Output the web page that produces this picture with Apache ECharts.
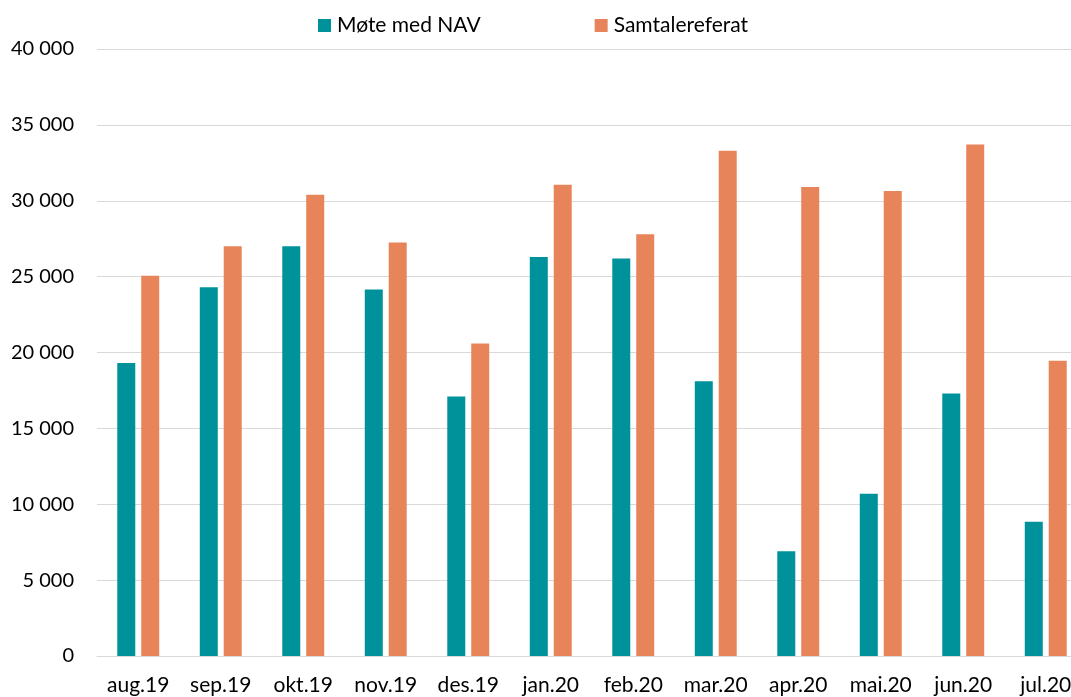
<!DOCTYPE html>
<html>
<head>
<meta charset="UTF-8">
<title>Møte med NAV / Samtalereferat</title>
<script src="https://cdn.jsdelivr.net/npm/echarts@6/dist/echarts.min.js"></script>
</head>
<body style="margin:0;width:1071px;height:697px;overflow:hidden;background:#fff;">
<!-- the chart runs past the right edge, like the original, so the container is wider than the window -->
<div id="container" style="width:1087px;height:697px;"></div>
<script>
var months = ['aug.19', 'sep.19', 'okt.19', 'nov.19', 'des.19', 'jan.20', 'feb.20', 'mar.20', 'apr.20', 'mai.20', 'jun.20', 'jul.20'];
var moteMedNav = [19300, 24300, 27000, 24150, 17100, 26300, 26200, 18100, 6900, 10700, 17300, 8850];
var samtalereferat = [25050, 27000, 30400, 27250, 20600, 31050, 27800, 33300, 30900, 30650, 33700, 19450];

var font = 'Lato, "Open Sans", sans-serif';
var chart = echarts.init(document.getElementById('container'));

function fmt(v) {
  return String(v).replace(/\B(?=(\d{3})+(?!\d))/g, ' ');
}

chart.setOption({
  animation: false,
  textStyle: { fontFamily: font },
  legend: {
    top: 10,
    left: 313,
    itemWidth: 13,
    itemHeight: 13,
    itemGap: 114,
    icon: 'rect',
    textStyle: { fontSize: 21, color: '#000', fontFamily: font, padding: [0, 0, 0, 1] },
    data: ['Møte med NAV', 'Samtalereferat']
  },
  grid: { left: 97, right: 0, top: 49, bottom: 41, containLabel: false },
  xAxis: {
    type: 'category',
    data: months,
    axisLine: { lineStyle: { color: '#d9d9d9', width: 1 } },
    axisTick: { show: false },
    axisLabel: { color: '#000', fontSize: 21, margin: 19, fontFamily: font, interval: 0, hideOverlap: false }
  },
  yAxis: {
    type: 'value',
    min: 0,
    max: 40000,
    interval: 5000,
    axisLine: { show: false },
    axisTick: { show: false },
    splitLine: { lineStyle: { color: '#d9d9d9', width: 1 } },
    axisLabel: { color: '#000', fontSize: 20, margin: 23, fontFamily: font, formatter: fmt }
  },
  series: [
    {
      name: 'Møte med NAV',
      type: 'bar',
      data: moteMedNav,
      barWidth: 18,
      barGap: '33%',
      itemStyle: { color: '#00929A' }
    },
    {
      name: 'Samtalereferat',
      type: 'bar',
      data: samtalereferat,
      barWidth: 18,
      barGap: '33%',
      itemStyle: { color: '#E8845A' }
    }
  ]
});
</script>
</body>
</html>
